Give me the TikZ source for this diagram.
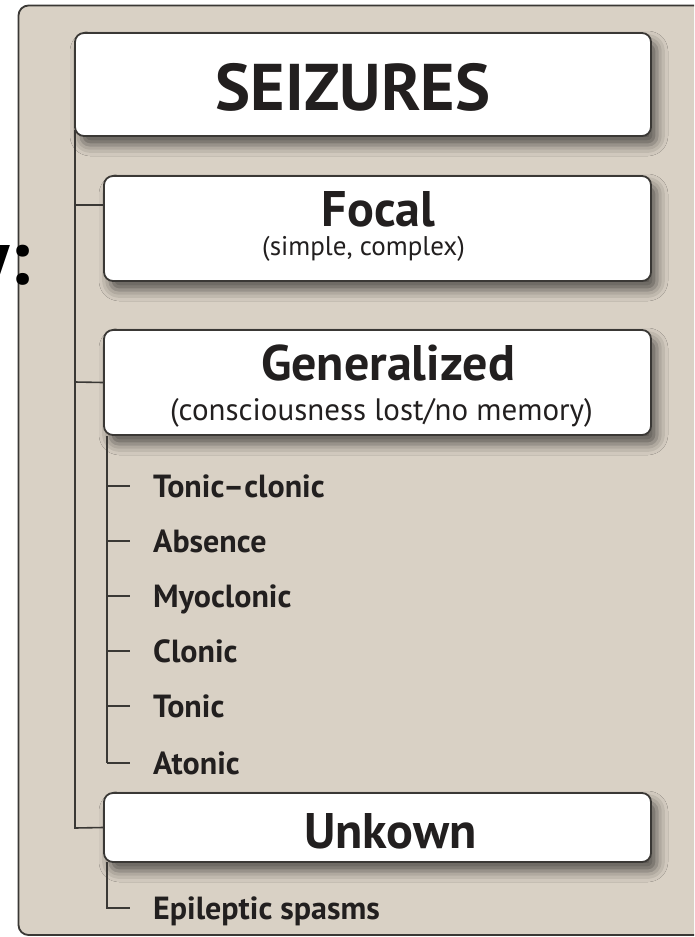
\documentclass[tikz,border=0pt]{standalone}
\usepackage{fontspec}
\setmainfont{PT Sans}
\usetikzlibrary{shadows.blur}
\definecolor{panel}{HTML}{D9D1C5}
\definecolor{edge}{HTML}{3A3835}
\definecolor{ink}{HTML}{221F1F}
\tikzset{
  catbox/.style={draw=edge, line width=1.8pt, fill=white, rounded corners=9pt,
    minimum width=547pt, inner sep=0pt,
    blur shadow={shadow xshift=6pt, shadow yshift=-9pt, shadow blur radius=11pt, shadow opacity=60}},
  conn/.style={draw=edge, line width=1.6pt},
  title/.style={text=ink, font=\bfseries\fontsize{50}{54}\selectfont, inner sep=0pt},
  sub/.style={text=ink, font=\fontsize{27}{30}\selectfont, inner sep=0pt},
  item/.style={text=ink, font=\bfseries\fontsize{32}{34}\selectfont, anchor=base west, inner sep=0pt},
}
\begin{document}
\begin{tikzpicture}[x=1pt,y=-1pt]
\useasboundingbox (0,0) rectangle (694,937);
\clip (0,0) rectangle (694,937);
\fill[white] (0,0) rectangle (694,937);
% panel
\draw[draw=edge, line width=1.8pt, fill=panel, rounded corners=10pt] (18.5,5.5) rectangle (720,935);
% fragments of slide text
\node[anchor=base west, inner sep=0pt, text=black, font=\bfseries\fontsize{78}{80}\selectfont] (frag) at (-28,284) {y:};
\node[anchor=base west, inner sep=0pt, text=black, font=\bfseries\fontsize{78}{80}\selectfont] (fragg) at (-14,-19) {g};
% boxes
\node[catbox, minimum width=576pt, minimum height=103pt] (seiz) at (363,84.5) {};
\node[title, font=\bfseries\fontsize{66}{70}\selectfont] (seizt) at (353,87) {SEIZURES};
\node[catbox, minimum height=105pt] (focal) at (377.5,228.5) {};
\node[title] (focalt) at (378.5,209) {Focal};
\node[sub] (focals) at (363.5,249) {(simple, complex)};
\node[catbox, minimum height=105pt] (gen) at (377.5,382.5) {};
\node[title] (gent) at (388,363) {Generalized};
\node[sub, font=\fontsize{31}{33}\selectfont] (gens) at (381.5,413) {(consciousness lost/no memory)};
\node[catbox, minimum height=69pt] (unk) at (377.5,827.5) {};
\node[title] (unkt) at (390.5,831) {Unkown};
% main trunk
\coordinate (trunktop) at (75,130);
\coordinate (jf) at (75,205);
\coordinate (jg) at (75,382);
\coordinate (ju) at (75,828);
\draw[conn] (trunktop) -- (ju) -- (unk.west);
\draw[conn] (jf) -- (jf -| focal.west);
\draw[conn] (jg) -- (gen.west);
% generalized items
\coordinate (gtop) at (107,436);
\coordinate (gbot) at (107,763);
\foreach \n/\y/\t in {tc/486/{Tonic–clonic}, ab/541/Absence, my/596/Myoclonic, cl/651/Clonic, to/706/Tonic, at/763/Atonic}{
  \node[item] (\n) at (153,\y+11) {\t};
  \draw[conn] (107,\y) -- (130,\y);
}
\draw[conn] (gtop) -- (gbot);
% unknown items
\node[item] (es) at (153,919) {Epileptic spasms};
\coordinate (utop) at (107,862);
\draw[conn] (utop) -- (107,908) -- (130,908);
\end{tikzpicture}
\end{document}
